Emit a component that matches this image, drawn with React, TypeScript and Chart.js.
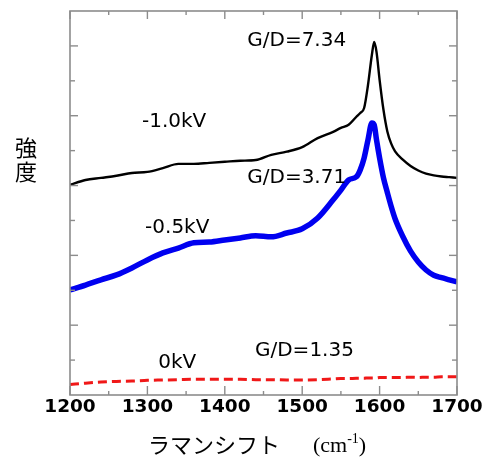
import { useEffect, useRef } from "react";
import { Chart, registerables } from "chart.js";

Chart.register(...registerables);

// Raman shift (cm^-1)
const SHIFT = [1200, 1220, 1240, 1260, 1280, 1300, 1320, 1340, 1360, 1380, 1400, 1420, 1440, 1460, 1480, 1500, 1520, 1540, 1550, 1560, 1570, 1575, 1580, 1585, 1590, 1593, 1596, 1600, 1605, 1610, 1615, 1620, 1630, 1640, 1650, 1660, 1670, 1680, 1690, 1700];
// -1.0 kV spectrum (black)
const V_M10 = [6.02, 6.16, 6.22, 6.28, 6.36, 6.39, 6.5, 6.62, 6.62, 6.65, 6.68, 6.71, 6.73, 6.88, 6.97, 7.1, 7.36, 7.54, 7.65, 7.74, 7.97, 8.08, 8.22, 8.88, 9.74, 10.11, 9.83, 9.03, 8.17, 7.55, 7.2, 6.98, 6.74, 6.56, 6.43, 6.34, 6.29, 6.26, 6.24, 6.22];
// -0.5 kV spectrum (blue)
const V_M05 = [3.01, 3.15, 3.3, 3.44, 3.64, 3.87, 4.07, 4.21, 4.36, 4.38, 4.44, 4.5, 4.56, 4.53, 4.64, 4.76, 5.07, 5.59, 5.87, 6.16, 6.25, 6.45, 6.79, 7.31, 7.79, 7.74, 7.31, 6.79, 6.22, 5.8, 5.4, 5.05, 4.54, 4.12, 3.81, 3.58, 3.43, 3.36, 3.3, 3.24];
// 0 kV spectrum (red dashed)
const V_0 = [0.3, 0.34, 0.37, 0.39, 0.4, 0.42, 0.43, 0.44, 0.45, 0.45, 0.45, 0.45, 0.44, 0.44, 0.43, 0.43, 0.44, 0.46, 0.47, 0.47, 0.48, 0.48, 0.48, 0.49, 0.49, 0.49, 0.49, 0.5, 0.5, 0.5, 0.5, 0.5, 0.5, 0.51, 0.5, 0.51, 0.51, 0.52, 0.52, 0.52];

const X_MAJOR = [1200, 1300, 1400, 1500, 1600, 1700];
const X_MINOR = [1250, 1350, 1450, 1550, 1650];
const Y_TICKS = [1, 2, 3, 4, 5, 6, 7, 8, 9, 10];

const LABEL_TEXT = ["G/D=7.34", "-1.0kV", "G/D=3.71", "-0.5kV", "0kV", "G/D=1.35"];
const LABEL_X = [1429, 1293, 1429, 1297, 1314, 1439];
const LABEL_Y = [10.0, 7.68, 6.07, 4.64, 0.77, 1.12];

const Y_TITLE = ["強", "度"];
const X_TITLE_JP = "ラマンシフト";

const decorPlugin = {
  id: "decor",
  afterDatasetsDraw(chart: any) {
    const { ctx, chartArea, scales } = chart;
    const xs = scales.x;
    const ys = scales.y;
    const { left, right, top, bottom } = chartArea;
    ctx.save();
    ctx.strokeStyle = "#8c8c8c";
    ctx.lineWidth = 1.6;
    ctx.strokeRect(left, top, right - left, bottom - top);
    ctx.lineWidth = 1.4;
    const tick = (x1: number, y1: number, x2: number, y2: number) => {
      ctx.beginPath();
      ctx.moveTo(x1, y1);
      ctx.lineTo(x2, y2);
      ctx.stroke();
    };
    X_MAJOR.forEach((v) => {
      const px = xs.getPixelForValue(v);
      tick(px, bottom, px, bottom - 9);
      tick(px, top, px, top + 8);
    });
    X_MINOR.forEach((v) => {
      const px = xs.getPixelForValue(v);
      tick(px, bottom, px, bottom - 4);
      tick(px, top, px, top + 4);
    });
    Y_TICKS.forEach((v) => {
      const py = ys.getPixelForValue(v);
      const len = v % 2 === 0 ? 8 : 5;
      tick(left, py, left + len, py);
      tick(right, py, right - len, py);
    });
    ctx.fillStyle = "#000";
    ctx.font = '20px "DejaVu Sans"';
    ctx.textBaseline = "alphabetic";
    ctx.textAlign = "left";
    LABEL_TEXT.forEach((t, i) => {
      ctx.fillText(t, xs.getPixelForValue(LABEL_X[i]), ys.getPixelForValue(LABEL_Y[i]));
    });
    ctx.font = '22px "Noto Sans CJK JP"';
    ctx.textAlign = "center";
    ctx.textBaseline = "middle";
    Y_TITLE.forEach((c, i) => {
      ctx.fillText(c, 26, 148 + i * 24);
    });
    ctx.textAlign = "left";
    ctx.textBaseline = "alphabetic";
    ctx.font = '22px "Noto Sans CJK JP"';
    ctx.fillText(X_TITLE_JP, 148, 453);
    ctx.font = '22px "Liberation Serif"';
    let cx = 313;
    ctx.fillText("(cm", cx, 452);
    cx += ctx.measureText("(cm").width;
    ctx.font = '14px "Liberation Serif"';
    ctx.fillText("-1", cx, 443);
    cx += ctx.measureText("-1").width;
    ctx.font = '22px "Liberation Serif"';
    ctx.fillText(")", cx, 452);
    ctx.restore();
  },
};

export default function App() {
  const ref = useRef<HTMLCanvasElement>(null);
  useEffect(() => {
    if (!ref.current) return;
    const mk = (vals: number[]) => SHIFT.map((x, i) => ({ x, y: vals[i] }));
    const common = { pointRadius: 0, cubicInterpolationMode: "monotone" as const };
    const chart = new Chart(ref.current, {
      type: "line",
      data: {
        datasets: [
          { label: "0kV", data: mk(V_0), borderColor: "#f01818", borderWidth: 3, borderDash: [9, 5], ...common },
          { label: "-0.5kV", data: mk(V_M05), borderColor: "#0000f0", borderWidth: 5.5, ...common },
          { label: "-1.0kV", data: mk(V_M10), borderColor: "#000000", borderWidth: 2.4, ...common },
        ],
      },
      options: {
        responsive: false,
        animation: false,
        layout: { padding: { top: 11, right: 31, left: 0, bottom: 0 } },
        plugins: { legend: { display: false }, tooltip: { enabled: false } },
        scales: {
          x: {
            type: "linear",
            min: 1200,
            max: 1700,
            grid: { display: false, drawTicks: false },
            border: { display: false },
            ticks: {
              stepSize: 100,
              autoSkip: false,
              maxRotation: 0,
              padding: 1,
              color: "#000",
              font: { family: "DejaVu Sans", size: 18.5, weight: "bold" },
              callback: (v: any) => String(v),
            },
            afterFit: (s: any) => {
              s.height = 64;
            },
          },
          y: {
            min: 0,
            max: 11,
            grid: { display: false, drawTicks: false },
            border: { display: false },
            ticks: { display: false },
            afterFit: (s: any) => {
              s.width = 70;
            },
          },
        },
      },
      plugins: [decorPlugin],
    });
    return () => chart.destroy();
  }, []);
  return (
    <div style={{ position: "fixed", left: 0, top: 0, width: 488, height: 459, background: "#fff" }}>
      <canvas ref={ref} width={488} height={459} />
    </div>
  );
}
